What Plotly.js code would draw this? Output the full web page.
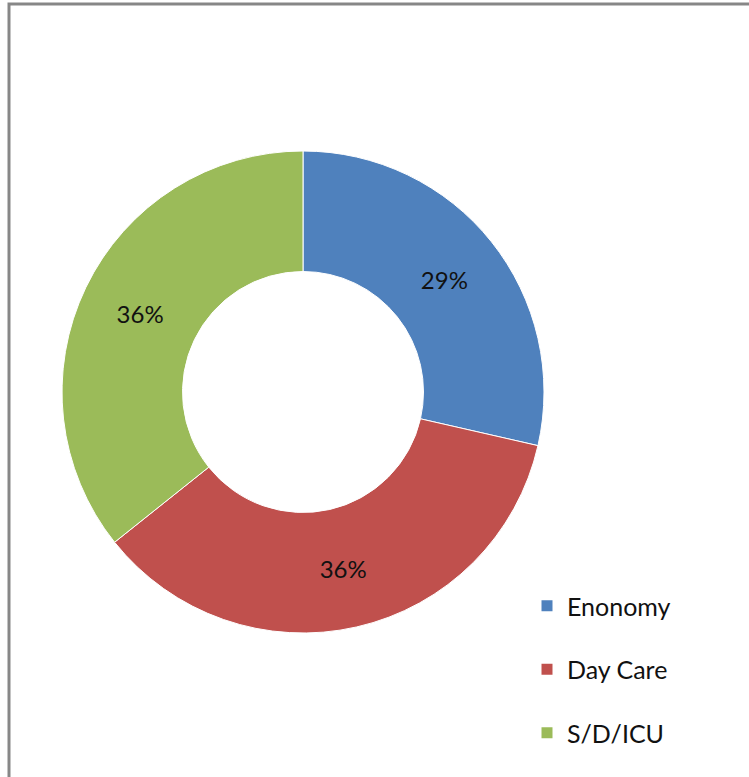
<!DOCTYPE html>
<html>
<head>
<meta charset="utf-8">
<script src="https://cdn.plot.ly/plotly-3.0.1.min.js"></script>
<style>
html,body{margin:0;padding:0;background:#fff;}
#chart{width:749px;height:777px;}
</style>
</head>
<body>
<div id="chart"></div>
<script>
// Data
const categories = ["Enonomy", "Day Care", "S/D/ICU"];
const values = [8, 10, 10];
const colors = ["#4F81BD", "#C0504D", "#9BBB59"];

const W = 749, H = 777;
const cx = 303, cy = 392, r = 241;

const pie = {
  type: "pie",
  labels: categories,
  values: values,
  sort: false,
  direction: "clockwise",
  rotation: 0,
  hole: 0.5,
  marker: {colors: colors, line: {color: "#ffffff", width: 1}},
  texttemplate: "%{percent:.0%}",
  textposition: "inside",
  insidetextorientation: "horizontal",
  textfont: {family: "Lato, 'Open Sans', sans-serif", size: 24, color: "#111111"},
  showlegend: false,
  hoverinfo: "label+percent",
  domain: {
    x: [(cx - r) / W, (cx + r) / W],
    y: [1 - (cy + r) / H, 1 - (cy - r) / H]
  }
};

// Legend entries (one per category) so the legend can be spaced like the reference
const legendTraces = categories.map((c, i) => ({
  type: "scatter",
  mode: "markers",
  x: [null], y: [null],
  name: c,
  legendgroup: "g" + i,
  marker: {symbol: "square", size: 11, color: colors[i]},
  hoverinfo: "skip"
}));

const layout = {
  width: W, height: H,
  margin: {l: 0, r: 0, t: 0, b: 0},
  paper_bgcolor: "#ffffff",
  plot_bgcolor: "rgba(0,0,0,0)",
  xaxis: {visible: false},
  yaxis: {visible: false},
  showlegend: true,
  legend: {
    x: 527 / W, xanchor: "left",
    y: 1 - 583 / H, yanchor: "top",
    font: {family: "Lato, 'Open Sans', sans-serif", size: 25, color: "#111111"},
    tracegroupgap: 28,
    bgcolor: "rgba(0,0,0,0)"
  },
  shapes: [{
    type: "rect", xref: "paper", yref: "paper",
    x0: 9 / W, x1: 1.05, y0: -0.05, y1: 1 - 4 / H,
    line: {color: "#878787", width: 3},
    fillcolor: "rgba(0,0,0,0)"
  }]
};

Plotly.newPlot("chart", [pie].concat(legendTraces), layout, {displayModeBar: false});
</script>
</body>
</html>
